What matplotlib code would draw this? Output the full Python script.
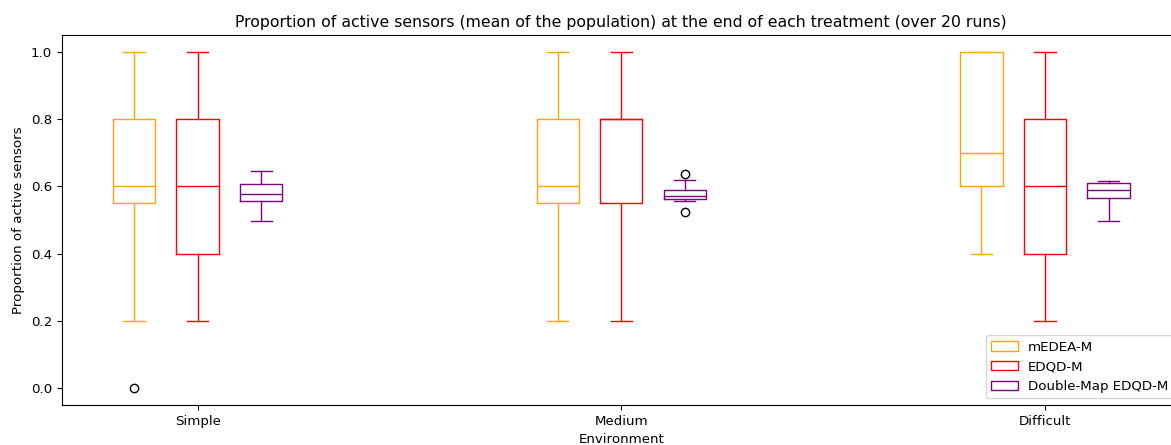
import matplotlib
matplotlib.use("Agg")
import matplotlib.pyplot as plt
from matplotlib.patches import Patch

environments = ["Simple", "Medium", "Difficult"]
series = ["mEDEA-M", "EDQD-M", "Double-Map EDQD-M"]
colors = ["orange", "red", "purple"]

# per series: values for Simple, Medium, Difficult
medea_whislo = [0.2, 0.2, 0.4]
medea_q1 = [0.55, 0.55, 0.6]
medea_med = [0.6, 0.6, 0.7]
medea_q3 = [0.8, 0.8, 1.0]
medea_whishi = [1.0, 1.0, 1.0]
medea_fliers = [[0.0], [], []]

edqd_whislo = [0.2, 0.2, 0.2]
edqd_q1 = [0.4, 0.55, 0.4]
edqd_med = [0.6, 0.8, 0.6]
edqd_q3 = [0.8, 0.8, 0.8]
edqd_whishi = [1.0, 1.0, 1.0]
edqd_fliers = [[], [], []]

dm_whislo = [0.498, 0.557, 0.496]
dm_q1 = [0.555, 0.563, 0.564]
dm_med = [0.578, 0.571, 0.590]
dm_q3 = [0.608, 0.588, 0.610]
dm_whishi = [0.646, 0.620, 0.615]
dm_fliers = [[], [0.636, 0.523], []]

all_series = [
    (medea_whislo, medea_q1, medea_med, medea_q3, medea_whishi, medea_fliers),
    (edqd_whislo, edqd_q1, edqd_med, edqd_q3, edqd_whishi, edqd_fliers),
    (dm_whislo, dm_q1, dm_med, dm_q3, dm_whishi, dm_fliers),
]

plt.rcParams['font.size'] = 9.6

fig = plt.figure(figsize=(11.71, 4.45), dpi=100)
ax = fig.add_axes([62 / 1171, 40 / 445, 1118.6 / 1171, 370 / 445])

offsets = [-0.15, 0.0, 0.15]
base = [1, 2, 3]
for (wl, q1, md, q3, wh, fl), off, c in zip(all_series, offsets, colors):
    stats = []
    for i in range(len(environments)):
        stats.append(dict(whislo=wl[i], q1=q1[i], med=md[i], q3=q3[i],
                          whishi=wh[i], fliers=fl[i]))
    pos = [b + off for b in base]
    ax.bxp(stats, positions=pos, widths=0.1, manage_ticks=False,
           boxprops=dict(color=c), medianprops=dict(color=c),
           whiskerprops=dict(color=c), capprops=dict(color=c),
           flierprops=dict(marker='o', markerfacecolor='none',
                           markeredgecolor='black'))

ax.set_xticks(base)
ax.set_xticklabels(environments)
ax.set_xlim(0.68, 3.32)
ax.set_ylim(-0.05, 1.05)
ax.set_xlabel("Environment")
ax.set_ylabel("Proportion of active sensors")
ax.set_title("Proportion of active sensors (mean of the population) at the end of each treatment (over 20 runs)", fontsize=11.3)

handles = [Patch(facecolor='white', edgecolor=c, label=s) for s, c in zip(series, colors)]
ax.legend(handles=handles, loc='lower right', fontsize=9.6)

fig.savefig("out.png", dpi=100)
